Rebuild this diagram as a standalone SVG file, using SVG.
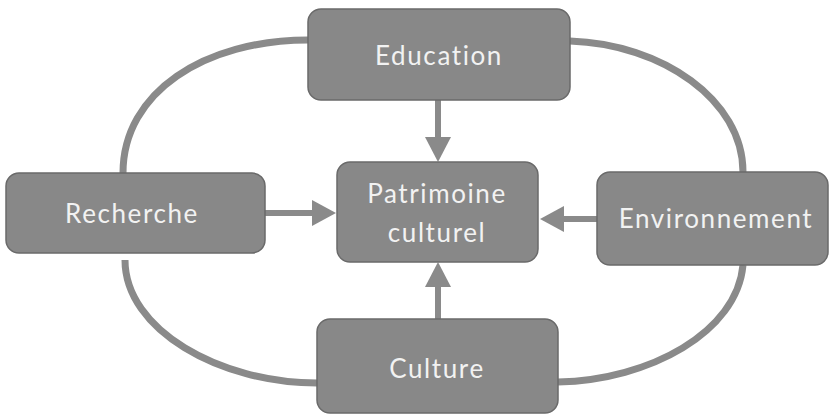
<svg xmlns="http://www.w3.org/2000/svg" width="833" height="415" viewBox="0 0 833 415">
<defs>
<style>
.box{fill:#888888;stroke:#6a6a6a;stroke-width:1.5}
.t{fill:#f2f2f2;font-family:Lato,"Open Sans",sans-serif;font-size:26px;letter-spacing:1.6px;font-variant-ligatures:none;text-anchor:middle}
.c{fill:none;stroke:#8a8a8a;stroke-width:7}
.a{fill:none;stroke:#8a8a8a;stroke-width:6}
.h{fill:#8a8a8a}
</style>
</defs>
<rect width="833" height="415" fill="#ffffff"/>
<g id="connectors">
<path class="c" d="M308,40 C205,40 123,92 123,173"/>
<path class="c" d="M570,41 C662,44 743,100 743,172"/>
<path class="c" d="M125,260 C125,330 220,383 317,383"/>
<path class="c" d="M743,265 C737,332 650,380 558,382"/>
<line class="a" x1="438" y1="100" x2="438" y2="140"/>
<polygon class="h" points="425,137 451,137 438,162"/>
<line class="a" x1="438" y1="319" x2="438" y2="284"/>
<polygon class="h" points="425,287 451,287 438,262"/>
<line class="a" x1="265" y1="213" x2="315" y2="213"/>
<polygon class="h" points="312,200 312,226 336,213"/>
<line class="a" x1="597" y1="219" x2="562" y2="219"/>
<polygon class="h" points="564,206 564,232 540,219"/>
</g>
<g id="education">
<rect class="box" x="308" y="9" width="262" height="91" rx="13"/>
<text class="t" x="439" y="65">Education</text>
</g>
<g id="recherche">
<rect class="box" x="6" y="173" width="259" height="80" rx="13"/>
<text class="t" x="132" y="223">Recherche</text>
</g>
<g id="environnement">
<rect class="box" x="597" y="172" width="231" height="93" rx="13"/>
<text class="t" x="716" y="228">Environnement</text>
</g>
<g id="culture">
<rect class="box" x="317" y="319" width="241" height="94" rx="13"/>
<text class="t" x="437" y="378">Culture</text>
</g>
<g id="patrimoine">
<rect class="box" x="337" y="162" width="201" height="100" rx="13"/>
<text class="t" x="437" y="203">Patrimoine</text>
<text class="t" x="437" y="242">culturel</text>
</g>
</svg>
